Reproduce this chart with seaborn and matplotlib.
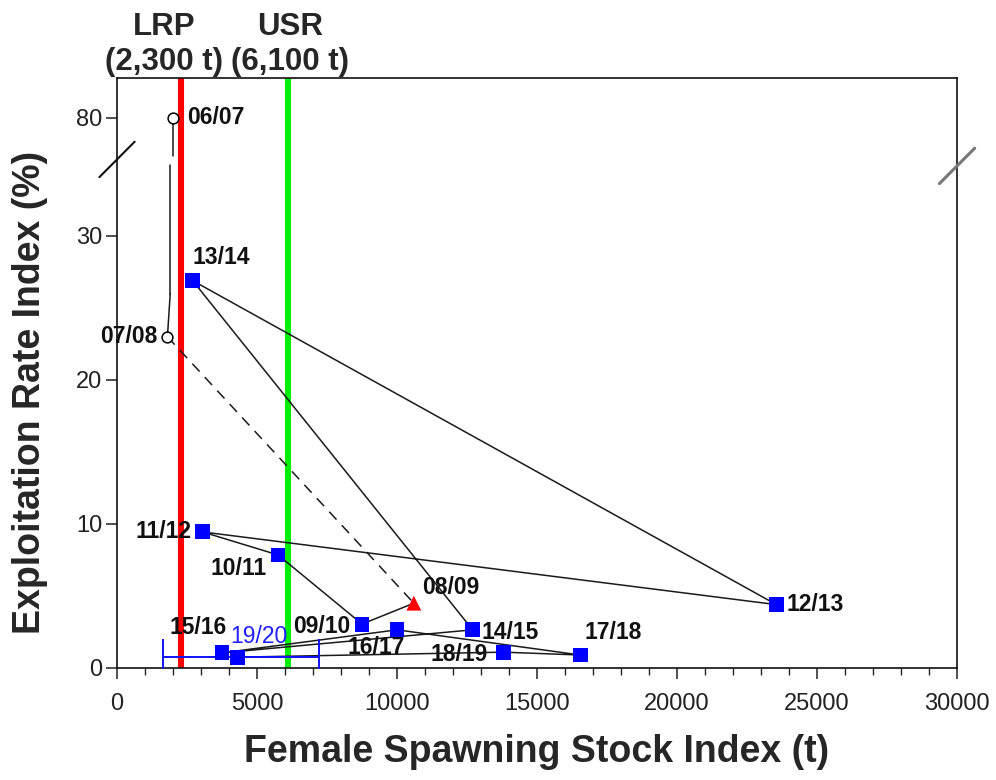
import numpy as np
import pandas as pd
import matplotlib
matplotlib.use("Agg")
import matplotlib.pyplot as plt
import matplotlib.transforms as mtransforms
import seaborn as sns

# ---- data -------------------------------------------------------------
seasons = ["06/07", "07/08", "08/09", "09/10", "10/11", "11/12", "12/13",
           "13/14", "14/15", "15/16", "16/17", "17/18", "18/19", "19/20"]
ssb = [2000, 1800, 10600, 8750, 5750, 3050, 23550,
       2700, 12700, 3750, 10000, 16550, 13800, 4300]
exploitation = [80, 23, 4.5, 3.05, 7.85, 9.45, 4.4,
                26.9, 2.65, 1.05, 2.65, 0.9, 1.1, 0.75]
marker_kind = ["open", "open", "survey", "index", "index", "index", "index",
               "index", "index", "index", "index", "index", "index", "index"]

ssb_ci_2020 = [1650, 7200]          # confidence range for 19/20

lrp = 2300
usr = 6100
ref_labels = ["LRP\n(2,300 t)", "USR\n(6,100 t)"]

x_ticks = [0, 5000, 10000, 15000, 20000, 25000, 30000]
y_ticks = [0, 10, 20, 30, 80]

# ---- broken y scale: linear up to 30, compressed above ----------------
BREAK = 30.0
K = 0.164


def fwd(y):
    y = np.asarray(y, dtype=float)
    return np.where(y <= BREAK, y, BREAK + (y - BREAK) * K)


def inv(v):
    v = np.asarray(v, dtype=float)
    return np.where(v <= BREAK, v, BREAK + (v - BREAK) / K)


df = pd.DataFrame({"season": seasons, "ssb": ssb, "er": exploitation,
                   "kind": marker_kind})

sns.set_style("ticks")
plt.rcParams["font.family"] = ["Liberation Sans", "DejaVu Sans"]

fig = plt.figure(figsize=(9.96, 7.8), dpi=100)
ax = fig.add_axes([0.1175, 0.1436, 0.8434, 0.7564])
ax.set_yscale("function", functions=(fwd, inv))
ax.set_xlim(0, 30000)
ax.set_ylim(0, float(inv(40.97)))

# reference points
ax.axvline(lrp, color="#ff0000", lw=4.4, zorder=1)
ax.axvline(usr, color="#00ee00", lw=4.4, zorder=1)
for xv, txt, shift in zip([lrp, usr], ref_labels, [-12.5, 1.5]):
    ax.annotate(txt, (xv, 1.0), xycoords=("data", "axes fraction"),
                xytext=(shift, 1), textcoords="offset points",
                ha="center", va="bottom", fontsize=22.5, fontweight="bold",
                linespacing=1.22)

# trajectory: top segment drawn around the axis break
line_kw = dict(color="#1a1a1a", lw=1.1, zorder=2)
gap_hi, gap_lo = 64.0, 60.0
top = df.iloc[0:2]
ax.plot([top.ssb.iloc[0], top.ssb.iloc[0]], [top.er.iloc[0], gap_hi], **line_kw)
ax.plot([top.ssb.iloc[1] + 100, top.ssb.iloc[1] + 100], [gap_lo, 26.0], **line_kw)
ax.plot([top.ssb.iloc[1] + 100, top.ssb.iloc[1]], [26.0, top.er.iloc[1]], **line_kw)
sns.lineplot(data=df.iloc[1:3], x="ssb", y="er", sort=False, estimator=None,
             ax=ax, linestyle=(0, (7, 5)), **line_kw)
sns.lineplot(data=df.iloc[2:], x="ssb", y="er", sort=False, estimator=None,
             ax=ax, **line_kw)

# 19/20 uncertainty
ax.errorbar([ssb[-1]], [exploitation[-1]],
            xerr=[[ssb[-1] - ssb_ci_2020[0]], [ssb_ci_2020[1] - ssb[-1]]],
            fmt="none", ecolor="#1010ff", elinewidth=1.4, capsize=13,
            capthick=1.4, zorder=3)

sns.scatterplot(data=df[df.kind != "open"], x="ssb", y="er", hue="kind",
                style="kind",
                palette={"survey": "#ff0000", "index": "#0000ff"},
                markers={"survey": "^", "index": "s"},
                s=115, edgecolor=None, linewidth=0,
                legend=False, ax=ax, zorder=4)
# open circles
open_pts = df[df.kind == "open"]
ax.scatter(open_pts.ssb, open_pts.er, s=60, facecolor="white",
           edgecolor="black", linewidth=1.1, zorder=5)

# point labels: (dx, dy) in points, horizontal alignment
label_pos = {
    "06/07": (10, 0, "left"),
    "07/08": (-7, 0, "right"),
    "08/09": (6, 11, "left"),
    "09/10": (-8.5, -2, "right"),
    "10/11": (-8, -10, "right"),
    "11/12": (-8, 0, "right"),
    "12/13": (7, 0, "left"),
    "13/14": (0, 16.5, "left"),
    "14/15": (6.5, -2, "left"),
    "15/16": (-17, 18, "center"),
    "16/17": (-15, -13, "center"),
    "17/18": (3, 16.5, "left"),
    "18/19": (-11, -2, "right"),
    "19/20": (-5, 15, "left"),
}
for s, xv, yv in zip(seasons, ssb, exploitation):
    dx, dy, ha = label_pos[s]
    blue = s == "19/20"
    ax.annotate(s, (xv, yv), xytext=(dx, dy), textcoords="offset points",
                ha=ha, va="center", fontsize=16.5,
                fontweight="normal" if blue else "bold",
                color="#2020ff" if blue else "#111111", zorder=6)

# axes styling
ax.set_xticks(x_ticks)
ax.set_xticks(np.arange(0, 30001, 1000), minor=True)
ax.set_yticks(y_ticks)
ax.set_yticks([], minor=True)
ax.tick_params(axis="both", which="major", direction="out", length=8,
               width=1.1, labelsize=17, colors="#222222")
ax.tick_params(axis="x", which="major", pad=10)
ax.tick_params(axis="y", which="major", pad=2.5)
ax.tick_params(axis="x", which="minor", direction="out", length=5, width=1.0)
for sp in ax.spines.values():
    sp.set_visible(True)
    sp.set_color("#111111")
    sp.set_linewidth(1.2)

ax.set_xlabel("Female Spawning Stock Index (t)", fontsize=27,
              fontweight="bold", va="center")
ax.set_ylabel("Exploitation Rate Index (%)", fontsize=27,
              fontweight="bold", va="center")
ax.xaxis.set_label_coords(0.5, (668 - 752) / 590.0)
ax.yaxis.set_label_coords((30 - 117) / 843.4, (668 - 392) / 590.0)

# axis-break slashes on both sides
for xa, ya, col, lw in [(0.0, 0.862, "#111111", 1.5), (1.0, 0.851, "#777777", 2.2)]:
    ax.plot([xa - 0.021, xa + 0.021], [ya - 0.03, ya + 0.03],
            transform=ax.transAxes, color=col, lw=lw, clip_on=False, zorder=7)

fig.savefig("out.png", dpi=100)
